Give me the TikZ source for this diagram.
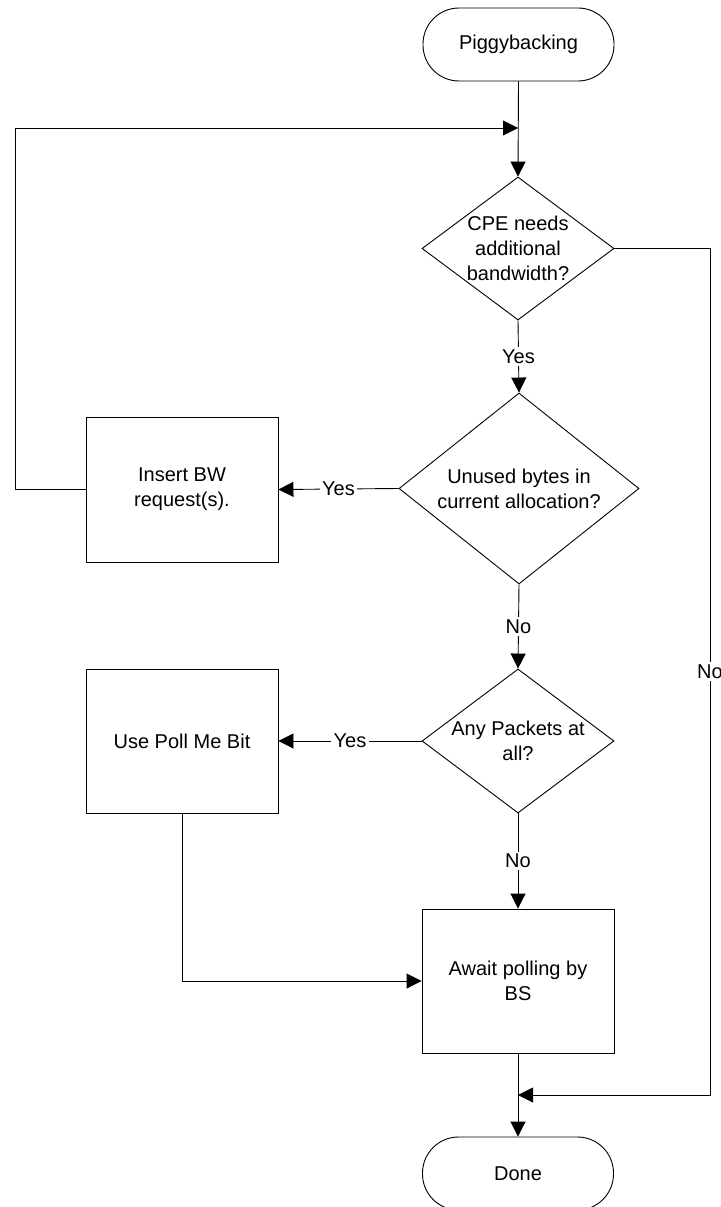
\documentclass[tikz,border=0pt]{standalone}
\usepackage{fontspec}
\setmainfont{Liberation Sans}
\usetikzlibrary{shapes.geometric,arrows.meta}
\begin{document}
\begin{tikzpicture}[x=1pt,y=-1pt,
  every node/.style={font=\fontsize{20}{25}\selectfont},
  base/.style={draw=black,line width=0.9pt,inner sep=0pt},
  term/.style={base,rectangle,rounded corners=36pt,minimum width=191pt,minimum height=73pt},
  proc/.style={base,rectangle,minimum width=192pt,minimum height=144pt,align=center},
  dec/.style={base,diamond,aspect=1},
  txt/.style={align=center,inner sep=0pt},
  lab/.style={fill=white,inner sep=2.5pt},
  conn/.style={line width=0.9pt,-{Triangle[length=15pt,width=15pt]}},
  plain/.style={line width=0.9pt}]
\useasboundingbox (0,0) rectangle (720,1207);
% nodes
\node[term] (start) at (518.5,44.5) {Piggybacking};
\node[dec,minimum width=192pt,minimum height=143pt] (d1) at (518,248.5) {};
\node[txt] (t1) at (d1) {CPE needs\\additional\\bandwidth?};
\node[dec,minimum width=240pt,minimum height=191pt] (d2) at (519,488.5) {};
\node[txt] (t2) at (d2) {Unused bytes in\\current allocation?};
\node[proc,minimum height=145pt] (b1) at (182,489.5) {Insert BW\\request(s).};
\node[dec,minimum width=192pt,minimum height=144pt] (d3) at (518,741) {};
\node[txt] (t3) at (d3) {Any Packets at\\all?};
\node[proc] (b2) at (182,741) {Use Poll Me Bit};
\node[proc] (b3) at (518,981) {Await polling by\\BS};
\node[term] (done) at (518,1173.5) {Done};
% junctions
\coordinate (j1) at (518,128);
\coordinate (j2) at (518,1095);
% connectors
\draw[conn] (start.south) -- (d1.north);
\draw[conn] (b1.west) -- (15,489.5) -- (15,128) -- (j1);
\draw[conn] (d1.south) -- node[lab] (y1) {Yes} (d2.north);
\draw[conn] (d2.west) -- node[lab] (y2) {Yes} (b1.east);
\draw[conn] (d2.south) -- node[lab] (n1) {No} (d3.north);
\draw[conn] (d3.west) -- node[lab] (y3) {Yes} (b2.east);
\draw[conn] (d3.south) -- node[lab] (n2) {No} (b3.north);
\draw[conn] (b2.south) |- (b3.west);
\draw[conn] (d1.east) -- (710,248.5) -- node[lab] (n3) {No} (710,1095) -- (j2);
\draw[conn] (b3.south) -- (done.north);
\end{tikzpicture}
\end{document}
